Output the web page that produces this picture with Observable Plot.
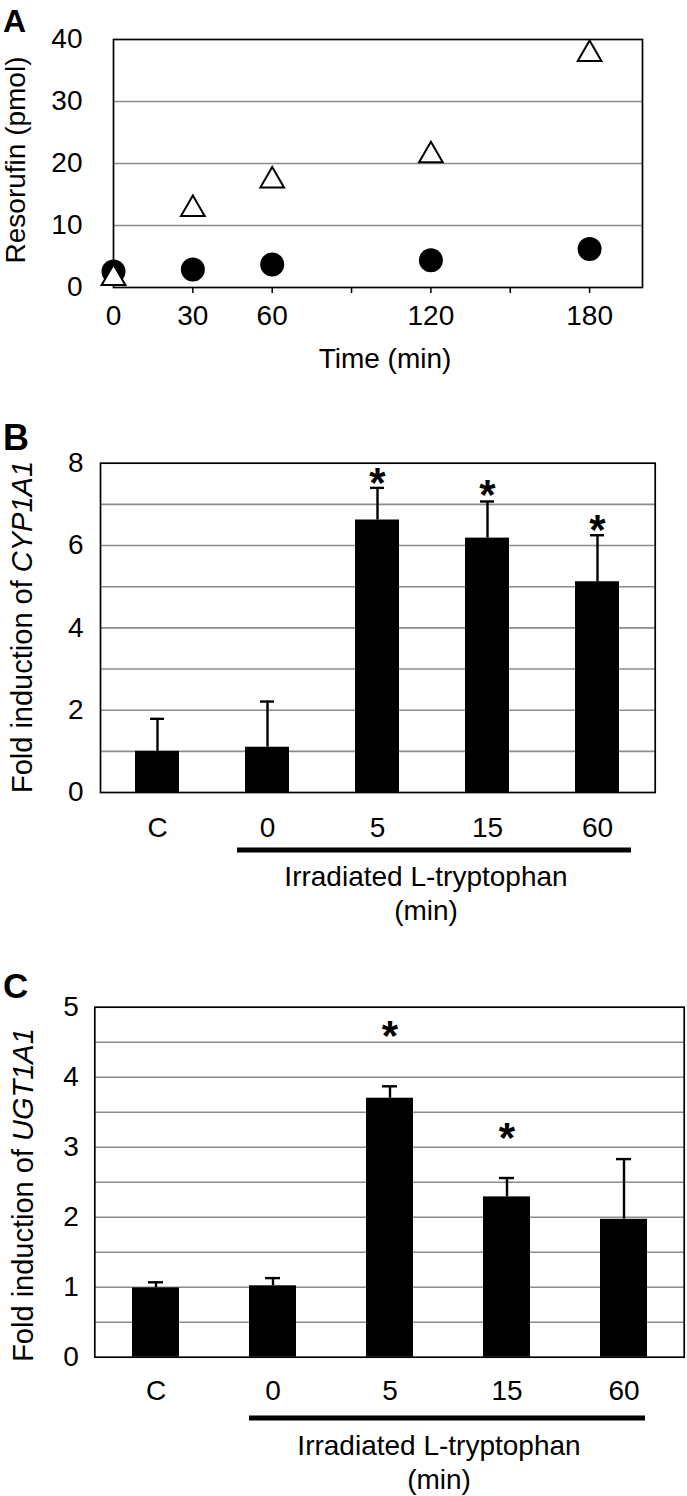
<!DOCTYPE html>
<html>
<head>
<meta charset="utf-8">
<script src="https://cdn.jsdelivr.net/npm/d3@7"></script>
<script src="https://cdn.jsdelivr.net/npm/@observablehq/plot@0.6"></script>
<style>
  html, body { margin: 0; padding: 0; background: #fff; }
  #wrap { position: relative; width: 687px; height: 1496px; overflow: hidden; }
  .panel { position: absolute; left: 0; }
</style>
</head>
<body>
<div id="wrap"></div>
<script>
// ---------- Panel A data ----------
const timeMin = [0, 30, 60, 120, 180];
const resorufinTriangle = [2.0, 13.1, 17.7, 21.8, 38.1];
const resorufinCircle = [2.6, 2.9, 3.7, 4.4, 6.2];
const timeTickMarks = [30, 60, 90, 120, 150, 180];
const timeTickLabels = [0, 30, 60, 120, 180];
const resorufinTicks = [0, 10, 20, 30, 40];
const resorufinGrid = [10, 20, 30];

// ---------- Panel B data ----------
const groups = ["C", "0", "5", "15", "60"];
const cypMean = [1.0, 1.10, 6.62, 6.18, 5.12];
const cypErrTop = [1.79, 2.21, 7.40, 7.07, 6.25];
const cypStar = [null, null, 7.77, 7.48, 6.64];
const cypTicks = [0, 2, 4, 6, 8];
const cypGrid = [1, 2, 3, 4, 5, 6, 7];

// ---------- Panel C data ----------
const ugtMean = [0.99, 1.02, 3.70, 2.29, 1.97];
const ugtErrTop = [1.07, 1.13, 3.87, 2.56, 2.83];
const ugtStar = [null, null, 4.74, 3.28, null];
const ugtTicks = [0, 1, 2, 3, 4, 5];
const ugtGrid = [0.5, 1, 1.5, 2, 2.5, 3, 3.5, 4, 4.5];

const FONT = '"Liberation Sans", Arial, Helvetica, sans-serif';
const GRID = "#8c8c8c";
const wrap = document.getElementById("wrap");

function place(svg, top) {
  const d = document.createElement("div");
  d.className = "panel";
  d.style.top = top + "px";
  d.appendChild(svg);
  wrap.appendChild(d);
}

function addText(svg, top, {x, y, parts, size = 28, anchor = "middle", rotate = 0, weight = "normal"}) {
  const t = d3.select(svg).append("text")
    .attr("transform", `translate(${x},${y - top})` + (rotate ? ` rotate(${rotate})` : ""))
    .attr("text-anchor", anchor)
    .attr("font-size", size)
    .attr("font-weight", weight)
    .attr("font-family", FONT)
    .attr("fill", "black");
  for (const p of parts) {
    t.append("tspan").attr("font-style", p.italic ? "italic" : null).text(p.text);
  }
}

// y tick labels as text marks anchored to the frame's left edge
function yLabels(ticks, pad, size) {
  return Plot.text(ticks, {y: d => d, text: d => String(d), frameAnchor: "left", textAnchor: "end",
    dx: -pad, fontSize: size, fill: "black"});
}
// x tick labels anchored to the frame's bottom edge
function xLabels(values, pad, size) {
  return Plot.text(values, {x: d => d, text: d => String(d), frameAnchor: "bottom", lineAnchor: "middle",
    dy: pad, fontSize: size, fill: "black"});
}

// ================= Panel A =================
{
  const top = 0;
  const tri = timeMin.map((t, i) => ({t, v: resorufinTriangle[i]}));
  const circ = timeMin.map((t, i) => ({t, v: resorufinCircle[i]}));
  const svg = Plot.plot({
    width: 687, height: 390,
    marginLeft: 113, marginRight: 45, marginTop: 39, marginBottom: 103,
    style: {fontFamily: FONT, background: "transparent", overflow: "visible", color: "black"},
    x: {domain: [0, 200], axis: null},
    y: {domain: [0, 40], axis: null},
    marks: [
      Plot.ruleY(resorufinGrid, {stroke: GRID, strokeWidth: 1.6}),
      Plot.frame({stroke: "black", strokeWidth: 1.7}),
      Plot.axisX(timeTickMarks, {tickSize: 6, tickFormat: () => "", label: null, strokeWidth: 1.5}),
      yLabels(resorufinTicks, 31, 28),
      xLabels(timeTickLabels, 29, 28),
      Plot.dot(circ, {x: "t", y: "v", r: 12, fill: "black"}),
      Plot.dot(tri, {x: "t", y: "v", symbol: "triangle", r: 8.8, fill: "white", stroke: "black", strokeWidth: 2, dy: 3})
    ]
  });
  addText(svg, top, {x: 3, y: 32, parts: [{text: "A"}], size: 32, anchor: "start", weight: "bold"});
  addText(svg, top, {x: 24.8, y: 160, parts: [{text: "Resorufin (pmol)"}], size: 28, rotate: -90});
  addText(svg, top, {x: 385, y: 368, parts: [{text: "Time (min)"}], size: 28});
  place(svg, top);
}

// ================= Bar panels =================
function barPanel({top, height, marginTop, marginBottom, marginLeft, marginRight, domain, mean, err, star, ticks, grid,
                   tickPadY, tickPadX, tickSize, capInset, gene, letter, letterY, letterSize, ylabelX, ylabelY,
                   lineOffL, lineOffR, lineY, groupY, minY}) {
  const data = groups.map((g, i) => ({g, m: mean[i], e: err[i], s: star[i]}));
  const svg = Plot.plot({
    width: 687, height,
    marginLeft, marginRight, marginTop, marginBottom,
    style: {fontFamily: FONT, background: "transparent", overflow: "visible", color: "black"},
    x: {domain: groups, paddingInner: 0.6, paddingOuter: 0.3, axis: null},
    y: {domain, axis: null},
    marks: [
      Plot.ruleY(grid, {stroke: GRID, strokeWidth: 1.6}),
      Plot.barY(data, {x: "g", y: "m", fill: "black"}),
      Plot.ruleX(data, {x: "g", y1: "m", y2: "e", stroke: "black", strokeWidth: 2.4}),
      Plot.tickY(data, {x: "g", y: "e", stroke: "black", strokeWidth: 2.4, insetLeft: capInset, insetRight: capInset}),
      Plot.text(data.filter(d => d.s != null), {x: "g", y: "s", text: () => "*", fontSize: 42, fontWeight: "bold", dy: 11, fill: "black"}),
      Plot.frame({stroke: "black", strokeWidth: 1.7}),
      yLabels(ticks, tickPadY, tickSize),
      xLabels(groups, tickPadX, tickSize)
    ]
  });
  const xs = svg.scale("x");
  const x0 = xs.apply("0") - lineOffL;
  const x1 = xs.apply("60") + xs.bandwidth + lineOffR;
  d3.select(svg).append("line")
    .attr("x1", x0).attr("x2", x1)
    .attr("y1", lineY - top).attr("y2", lineY - top)
    .attr("stroke", "black").attr("stroke-width", 5);
  const cx = (x0 + x1) / 2 - 8;
  addText(svg, top, {x: cx, y: groupY, parts: [{text: "Irradiated L-tryptophan"}], size: 28});
  addText(svg, top, {x: cx, y: minY, parts: [{text: "(min)"}], size: 28});
  addText(svg, top, {x: 3, y: letterY, parts: [{text: letter}], size: letterSize, anchor: "start", weight: "bold"});
  addText(svg, top, {x: ylabelX, y: ylabelY, parts: [{text: "Fold induction of "}, {text: gene, italic: true}], size: 29, rotate: -90});
  place(svg, top);
}

barPanel({
  top: 400, height: 530, marginTop: 62.7, marginBottom: 138, marginLeft: 100, marginRight: 32.3,
  domain: [0, 8], mean: cypMean, err: cypErrTop, star: cypStar, ticks: cypTicks, grid: cypGrid,
  tickPadY: 17, tickPadX: 36, tickSize: 28, capInset: 15, gene: "CYP1A1", letter: "B", letterY: 450, letterSize: 36,
  ylabelX: 31.5, ylabelY: 627, lineOffL: 8, lineOffR: 12, lineY: 850, groupY: 886, minY: 920
});

barPanel({
  top: 930, height: 566, marginTop: 76.7, marginBottom: 139.3, marginLeft: 94.3, marginRight: 3.3,
  domain: [0, 5], mean: ugtMean, err: ugtErrTop, star: ugtStar, ticks: ugtTicks, grid: ugtGrid,
  tickPadY: 16, tickPadX: 34, tickSize: 28, capInset: 16, gene: "UGT1A1", letter: "C", letterY: 998, letterSize: 35,
  ylabelX: 33, ylabelY: 1195, lineOffL: 0, lineOffR: -2, lineY: 1418, groupY: 1455, minY: 1489
});
</script>
</body>
</html>
